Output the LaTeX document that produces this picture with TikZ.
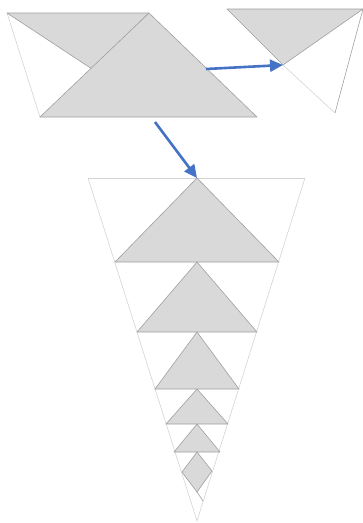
\documentclass[tikz,border=0pt]{standalone}
\usetikzlibrary{arrows.meta}
\definecolor{fillgray}{HTML}{D9D9D9}
\definecolor{edgegray}{HTML}{A0A0A0}
\definecolor{lightedge}{HTML}{D4D4D4}
\definecolor{arrowblue}{HTML}{4472C4}
\tikzset{
  shade/.style={fill=fillgray, draw=edgegray, line width=0.6pt, line join=round},
  faint/.style={draw=lightedge, line width=0.6pt},
  mid/.style={draw=edgegray, line width=0.6pt},
  bluearrow/.style={draw=arrowblue, line width=2.6pt, -{Triangle[length=13pt,width=12pt]}, shorten >=0pt}
}
\begin{document}
\begin{tikzpicture}[x=1pt,y=-1pt]
\useasboundingbox (0,0) rectangle (363,523);
% ---- top-left figure ----
\coordinate (A1) at (7,13);
\coordinate (A2) at (149,13);
\coordinate (A3) at (257,117);
\coordinate (A4) at (40,117);
\coordinate (A5) at (92,69);
\path[faint] (A1) -- (A4);
\path[shade] (A1) -- (A2) -- (A5) -- cycle;
\path[shade] (A2) -- (A3) -- (A4) -- cycle;
% ---- top-right figure ----
\coordinate (B1) at (227,9);
\coordinate (B2) at (363,9);
\coordinate (B3) at (283,65);
\coordinate (B4) at (335,113);
\path[faint] (B3) -- (B4);
\path[mid] (B4) -- (B2);
\path[shade] (B1) -- (B2) -- (B3) -- cycle;
% ---- bottom figure ----
\coordinate (T1) at (88,178);
\coordinate (T2) at (305,178);
\coordinate (TB) at (197,521);
\coordinate (P0) at (197,178);
\path[faint] (T1) -- (T2);
\path[faint] (T1) -- (TB) -- (T2);
% levels
\coordinate (L1) at (115,262); \coordinate (R1) at (279,262); \coordinate (P1) at (197,262);
\coordinate (L2) at (137,332); \coordinate (R2) at (257,332); \coordinate (P2) at (197,332);
\coordinate (L3) at (155,389); \coordinate (R3) at (239,389); \coordinate (P3) at (197,389);
\coordinate (L4) at (166,424); \coordinate (R4) at (228,424); \coordinate (P4) at (197,424);
\coordinate (L5) at (174,452); \coordinate (R5) at (220,452); \coordinate (P5) at (197,452);
\path[shade] (P0) -- (R1) -- (L1) -- cycle;
\path[shade] (P1) -- (R2) -- (L2) -- cycle;
\path[shade] (P2) -- (R3) -- (L3) -- cycle;
\path[shade] (P3) -- (R4) -- (L4) -- cycle;
\path[shade] (P4) -- (R5) -- (L5) -- cycle;
\coordinate (DL) at (182,472);
\coordinate (DR) at (212,471);
\coordinate (DB) at (197,492);
\coordinate (DE) at (203,501);
\path[shade] (P5) -- (DR) -- (DB) -- (DL) -- cycle;
\path[mid] (DB) -- (DE);
% ---- arrows ----
\coordinate (s1) at (206,69);
\coordinate (s2) at (155,122);
\draw[bluearrow] (s1) -- (B3);
\draw[bluearrow] (s2) -- (P0);
\end{tikzpicture}
\end{document}
